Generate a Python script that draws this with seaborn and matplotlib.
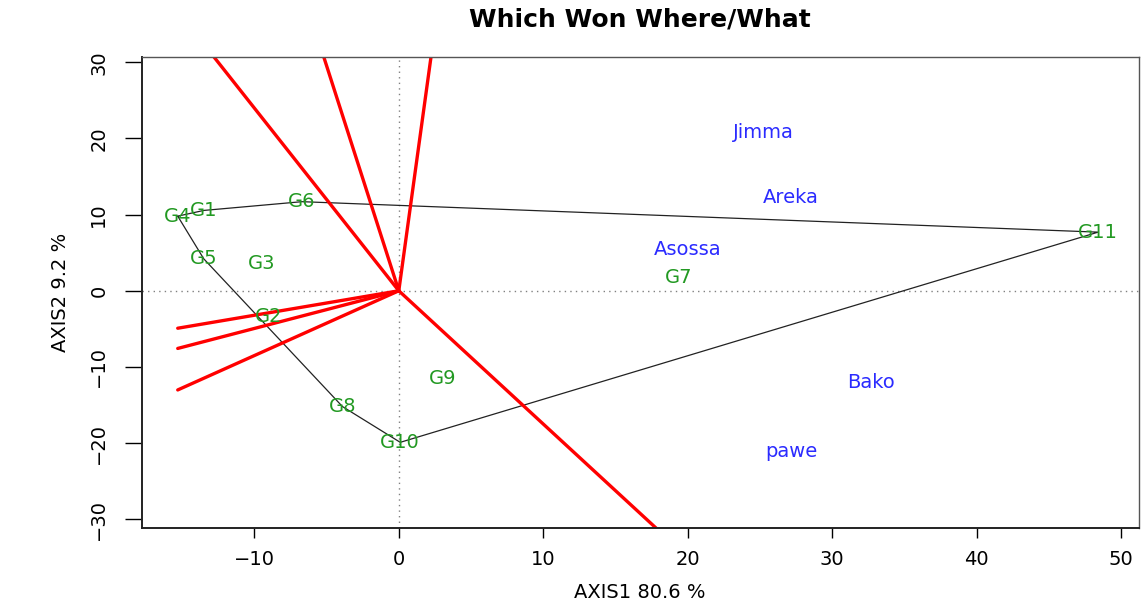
import numpy as np
import pandas as pd
import matplotlib
matplotlib.use("Agg")
import matplotlib.pyplot as plt
import seaborn as sns

# genotype scores (AXIS1, AXIS2)
genotypes = ["G1", "G2", "G3", "G4", "G5", "G6", "G7", "G8", "G9", "G10", "G11"]
gen_x = [-13.5, -9.0, -9.5, -15.3, -13.5, -6.7, 19.4, -3.9, 3.0, 0.1, 48.4]
gen_y = [10.55, -3.4, 3.6, 9.8, 4.2, 11.7, 1.8, -15.2, -11.5, -19.9, 7.7]

# environment scores
envs = ["Jimma", "Areka", "Asossa", "Bako", "pawe"]
env_x = [25.2, 27.1, 20.0, 32.7, 27.2]
env_y = [20.8, 12.3, 5.4, -12.0, -21.1]

# polygon vertices (convex hull of genotypes)
hull_order = ["G4", "G1", "G6", "G11", "G10", "G8", "G5"]

gen = pd.DataFrame({"name": genotypes, "x": gen_x, "y": gen_y}).set_index("name")
env = pd.DataFrame({"name": envs, "x": env_x, "y": env_y})

sns.set_style("white", {"text.color": "black", "axes.labelcolor": "black",
                        "xtick.color": "black", "ytick.color": "black"})
plt.rcParams["font.family"] = ["DejaVu Sans"]

fig = plt.figure(figsize=(11.42, 6.03), dpi=100)
ax = fig.add_axes([0.124, 0.125, 0.873, 0.7805])

ax.axhline(0, color="grey", ls=(0, (1, 3)), lw=1)
ax.axvline(0, color="grey", ls=(0, (1, 3)), lw=1)

# hull polygon
hull = gen.loc[hull_order + [hull_order[0]]].reset_index()
hull["poly"] = 0
sns.lineplot(data=hull, x="x", y="y", units="poly", estimator=None, sort=False,
             color="#222222", lw=0.9, ax=ax)

# rays from origin perpendicular to each hull side
xmin = min(gen_x)
rays = []
for i in range(len(hull_order)):
    p = gen.loc[hull_order[i]].values
    q = gen.loc[hull_order[(i + 1) % len(hull_order)]].values
    d = q - p
    t = -np.dot(p, d) / np.dot(d, d)
    foot = p + t * d
    s = 200 / np.hypot(*foot)
    if foot[0] < 0:
        s = min(s, xmin / foot[0])
    end = foot * s
    rays.append(pd.DataFrame({"x": [0, end[0]], "y": [0, end[1]], "ray": i}))
rays = pd.concat(rays)
sns.lineplot(data=rays, x="x", y="y", units="ray", estimator=None, sort=False,
             color="red", lw=2.4, ax=ax)

for name, r in gen.iterrows():
    ax.text(r.x, r.y, name, color="#229922", fontsize=14, ha="center", va="center")
for _, r in env.iterrows():
    ax.text(r.x, r.y, r["name"], color="#2b2bff", fontsize=14, ha="center", va="center")

ax.set_xlim(-17.8, 51.2)
ax.set_ylim(-31.1, 30.7)
ax.set_xticks([-10, 0, 10, 20, 30, 40, 50])
ax.set_yticks([-30, -20, -10, 0, 10, 20, 30])
ax.tick_params(axis="x", length=7, width=1, pad=9, labelsize=14, direction="out", bottom=True)
ax.tick_params(axis="y", length=12, width=1, pad=12, labelsize=14, direction="out", left=True)
plt.setp(ax.get_yticklabels(), rotation=90, va="center")
ax.set_xticklabels(["\u221210", "0", "10", "20", "30", "40", "50"])

for side in ["left", "bottom"]:
    ax.spines[side].set_color("#222222")
    ax.spines[side].set_linewidth(1.4)
for side in ["top", "right"]:
    ax.spines[side].set_color("#555555")
    ax.spines[side].set_linewidth(1.0)

ax.set_xlabel("AXIS1 80.6 %", fontsize=14, labelpad=10)
ax.set_ylabel("AXIS2 9.2 %", fontsize=14, labelpad=14)
ax.set_title("Which Won Where/What", fontsize=18, fontweight="bold", pad=22)

fig.savefig("out.png", dpi=100)
